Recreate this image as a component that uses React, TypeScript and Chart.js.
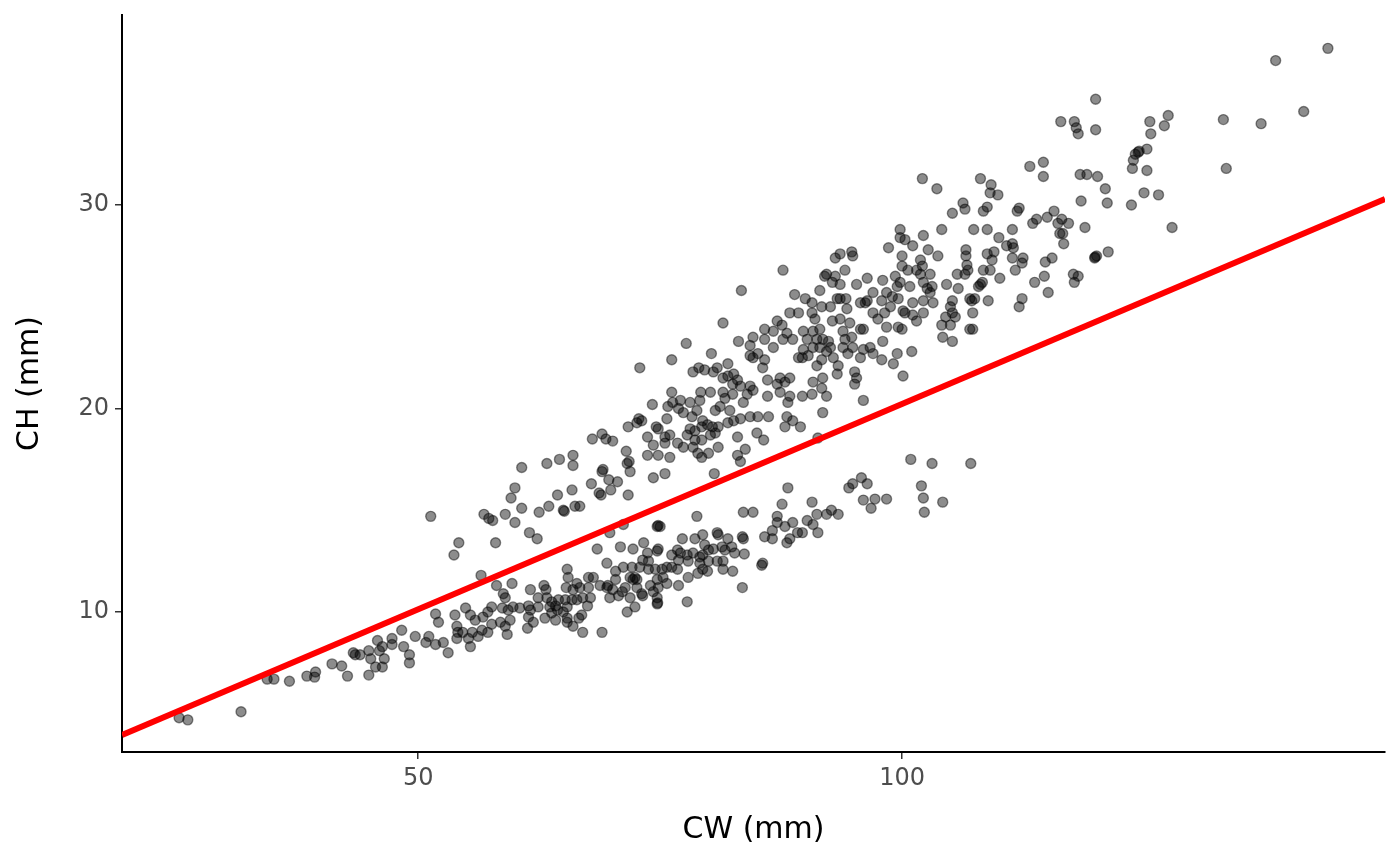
import React, { useEffect, useRef } from "react";
import { Chart, registerables } from "chart.js";
Chart.register(...registerables);

// Axis ranges and tick labels
const cwRange = [19.4, 149.9];
const chRange = [3.12, 39.34];
const cwTicks = [50, 100];
const chTicks = [10, 20, 30];

// Fitted reference line (CW, CH) at the two ends of the panel
const fitCW = [19.4, 149.9];
const fitCH = [3.96, 30.3];

// Small morph (lower branch): [CW, CH] in mm
const smallTail: number[][] = [
  [25.3,4.8],[26.2,4.7],[31.7,5.1],[34.4,6.7],[35.1,6.7],[36.7,6.6],[38.5,6.85],[39.3,6.8],[39.4,7.05],[41.1,7.45],
  [42.1,7.35],[42.7,6.85],[43.3,8.0],[43.5,7.9],[44.0,7.9],[44.9,6.9],[44.9,8.1],[45.1,7.7],[45.8,8.6],[46.0,8.1],
  [45.6,7.3],[46.3,7.3],[46.3,8.3],[46.5,7.7],[47.3,8.7],[47.3,8.4],[48.3,9.1],[48.5,8.3],[49.1,7.9],[49.1,7.5],
  [49.7,8.8],[50.8,8.5],[51.1,8.8]
];
const smallMid: number[][] = [
  [58.1,11.3],[59.7,11.4],[58.8,10.9],[59.0,10.7],[63.0,11.3],[63.2,11.1],[62.4,10.7],[65.4,12.1],[65.5,11.7],[66.4,11.4],
  [65.3,11.2],[66.0,11.1],[66.7,11.2],[67.6,11.7],[68.1,11.7],[67.6,11.2],[67.8,10.7],[67.0,10.7],[66.4,10.6],[65.9,10.6],
  [65.4,10.25],[65.2,10.6],[64.5,10.6],[64.2,10.3],[63.8,10.5],[63.6,10.25],[64.4,10.1],[65.0,10.0],[64.2,9.6],[65.4,9.5],
  [66.0,9.3],[66.6,9.7],[66.9,9.85],[67.0,9.0],[69.0,9.0],[67.5,10.3],[68.8,11.3],[69.6,11.3],[70.1,11.1],[69.5,12.4],
  [70.4,12.0],[70.4,11.6],[69.8,10.7],[70.7,10.8],[69.5,11.2],[61.6,11.1],[61.4,10.3],[61.6,10.1],[61.4,9.75],[61.3,9.2],
  [61.9,9.5],[62.4,10.25],[60.5,10.2],[59.8,10.25],[59.3,10.1],[59.5,9.6],[59.0,9.3],[59.2,8.9],[58.7,10.2],[57.6,10.25],
  [57.2,10.0],[56.7,9.75],[57.6,9.4],[57.2,9.0],[56.6,9.1],[56.2,8.8],[55.6,9.0],[55.9,9.6],[55.4,9.85],[54.9,10.2],
  [53.8,9.85],[54.0,9.3],[54.1,9.0],[54.6,9.0],[55.2,8.7],[55.4,8.3],[54.0,8.7],[53.1,8.0],[52.6,8.5],[51.8,9.9],
  [52.1,9.5],[51.8,8.4],[58.5,9.5],[63.1,9.7],[63.8,9.95],[65.4,9.7],[63.3,10.7],[68.5,13.1]
];
const smallLate: number[][] = [
  [71.2,14.3],[78.8,14.7],[74.7,14.2],[74.8,14.25],[75.0,14.2],[70.9,13.2],[73.3,13.4],[72.2,13.1],[73.7,12.9],[74.7,13.0],
  [74.8,13.1],[77.3,13.6],[78.6,13.6],[79.4,13.8],[80.9,13.9],[81.0,13.8],[82.0,13.6],[83.5,13.7],[83.6,13.6],[79.6,13.3],
  [80.0,13.05],[80.5,13.1],[81.4,13.2],[81.7,13.05],[82.4,13.2],[82.7,12.9],[83.7,12.85],[79.4,12.8],[79.1,12.7],[78.4,12.9],
  [77.8,12.8],[77.1,12.9],[76.8,13.05],[76.2,12.8],[76.9,12.55],[77.9,12.5],[79.1,12.4],[80.0,12.5],[80.9,12.5],[81.5,12.5],
  [79.4,12.1],[79.9,12.0],[78.9,11.9],[77.9,11.7],[76.9,11.3],[75.7,11.4],[76.8,12.1],[76.2,12.2],[75.7,12.2],[75.2,12.1],
  [74.5,12.1],[73.8,12.5],[73.2,12.55],[73.8,12.1],[72.9,12.2],[72.4,11.7],[72.1,12.2],[71.2,12.2],[72.2,11.6],[72.6,11.6],
  [71.9,11.7],[71.4,11.2],[72.6,11.2],[73.1,10.9],[73.2,10.8],[74.0,11.3],[74.7,11.6],[75.3,11.7],[74.8,11.2],[74.3,11.0],
  [74.7,10.7],[74.7,10.4],[74.75,10.45],[71.9,10.7],[72.4,10.25],[71.6,10.0],[71.1,11.0],[77.8,10.5],[81.5,12.1],[82.5,12.0],
  [83.5,11.2],[85.6,12.4],[85.5,12.3],[85.8,13.7],[86.6,13.6],[86.6,14.0],[87.1,14.4],[87.1,14.7],[87.6,15.3],[88.2,16.1],
  [87.9,14.2],[88.7,14.4],[89.2,13.9],[88.1,13.4],[88.4,13.6],[89.7,13.9],[90.2,14.5],[90.7,15.4],[90.8,14.3],[91.3,13.9],
  [91.2,14.8],[92.2,14.8],[92.7,15.0],[93.4,14.8],[83.6,14.9],[84.6,14.9],
  [100.9,17.5],[103.1,17.3],[107.1,17.3],[95.8,16.6],[94.9,16.3],[94.5,16.1],[96.4,16.3],[102.0,16.2],[96.0,15.5],[97.2,15.55],
  [98.4,15.55],[96.8,15.1],[102.2,15.6],[104.2,15.4],[102.3,14.9],[91.3,18.55]
];

// Large morph (upper branch): [CW, CH] in mm
const largeEarly: number[][] = [
  [72.8,19.5],[72.6,19.3],[71.7,19.1],[68.0,18.5],[69.0,18.75],[69.4,18.5],[70.1,18.4],[71.5,17.9],[71.8,17.4],[71.6,17.3],
  [71.9,16.9],[69.0,16.9],[69.1,17.0],[69.7,16.5],[70.6,16.4],[67.9,16.3],[68.7,15.85],[68.9,15.75],[69.9,16.0],[71.7,15.75],
  [66.0,17.7],[66.0,17.2],[64.6,17.5],[63.3,17.3],[60.7,17.1],[60.0,16.1],[59.6,15.6],[65.9,16.0],[64.4,15.75],[63.5,15.2],
  [62.5,14.9],[60.7,15.1],[65.0,15.0],[65.1,14.95],[66.2,15.2],[66.7,15.2],[59.0,14.8],[60.0,14.4],[56.8,14.8],[57.3,14.6],
  [57.7,14.5],[61.5,13.9],[62.3,13.6],[54.2,13.4],[58.0,13.4],[69.8,13.9],[51.3,14.7],[53.7,12.8],[56.5,11.8]
];
const largeCore: number[][] = [
  [81.5,24.2],[77.7,23.2],[76.2,22.4],[80.3,22.7],[72.9,22.0],[78.4,21.8],[79.0,22.0],[79.6,21.9],[80.5,21.8],[80.9,22.0],
  [82.0,22.2],[81.5,21.5],[82.0,21.6],[82.6,21.7],[83.0,21.4],[82.5,21.2],[83.3,21.1],[83.1,23.3],[84.3,23.1],[84.6,23.5],
  [84.3,22.6],[84.6,22.5],[85.1,22.7],[84.3,21.1],[84.6,20.9],[84.0,20.7],[83.6,20.3],[82.5,20.7],[81.5,20.8],[81.7,20.5],
  [81.2,20.1],[80.7,19.9],[80.2,20.8],[79.2,20.8],[79.1,20.4],[78.1,20.3],[77.1,20.4],[76.2,20.8],[76.3,20.3],[75.8,20.1],
  [76.9,20.0],[77.4,19.8],[78.3,19.6],[78.8,19.9],[79.4,19.4],[79.9,19.2],[80.4,19.1],[81.0,19.1],[80.7,18.8],[80.2,18.7],
  [79.3,19.1],[78.6,18.9],[78.1,19.0],[77.8,18.7],[78.6,18.45],[79.3,18.45],[78.4,18.1],[77.4,18.1],[76.8,18.3],[76.0,18.7],
  [75.5,18.6],[74.8,19.0],[74.6,19.1],[73.7,18.6],[73.1,19.4],[74.2,20.2],[75.7,19.5],[74.3,18.2],[75.5,18.3],[73.7,17.7],
  [74.8,17.7],[76.0,17.6],[75.5,16.8],[74.3,16.6],[78.9,17.8],[80.0,17.8],[79.3,17.6],[81.0,18.1],[80.6,16.8],[82.2,19.9],
  [82.6,19.4],[82.0,19.3],[83.3,19.5],[84.3,19.6],[85.1,19.6],[83.0,18.6],[83.8,18.0],[83.0,17.7],[83.3,17.4],[85.0,18.8],
  [83.4,25.8],
  [87.7,26.8],[93.6,27.6],[93.1,27.4],[94.8,27.7],[94.9,27.5],[94.1,26.8],[92.2,26.6],[92.0,26.5],[93.1,26.5],[93.6,26.1],
  [92.8,26.2],[91.5,25.8],[88.9,25.6],[90.0,25.4],[90.7,25.2],[91.7,25.0],[92.6,25.0],[93.3,25.4],[94.2,25.4],[93.6,25.4],
  [94.3,24.9],[95.3,26.1],[96.4,26.4],[97.0,25.7],[96.4,25.3],[96.2,25.2],[95.7,25.2],[97.0,24.7],[97.5,24.4],[88.4,24.7],
  [89.3,24.7],[87.1,24.3],[85.8,23.9],[87.6,24.1],[88.1,23.7],[87.7,23.4],[86.7,23.8],[88.7,23.4],[89.8,23.8],[90.2,23.4],
  [90.8,23.8],[91.2,23.4],[91.5,23.9],[90.7,24.7],[91.0,24.4],[92.8,24.3],[93.6,24.4],[93.9,23.8],[94.6,24.2],[95.7,23.9],
  [96.0,23.9],[94.8,23.5],[94.1,23.4],[93.9,23.0],[92.6,23.0],[92.4,23.3],[91.8,23.4],[91.5,23.0],[90.8,23.0],[89.8,22.9],
  [89.3,22.5],[89.7,22.5],[90.3,22.6],[91.2,22.1],[91.7,22.4],[92.2,22.8],[92.9,22.5],[93.4,22.1],[94.4,22.7],[94.9,23.0],
  [95.7,22.5],[96.0,22.9],[96.7,23.0],[97.0,22.7],[95.1,21.8],[95.3,21.5],[95.1,21.2],[96.0,20.4],[93.3,21.7],[91.8,21.5],
  [90.8,21.3],[91.7,21.0],[92.2,20.6],[90.7,20.7],[89.7,20.6],[88.4,20.6],[87.4,20.8],[87.1,21.2],[88.4,21.5],[87.9,21.3],
  [87.4,21.5],[86.1,21.4],[85.8,22.4],[85.6,22.0],[86.7,23.0],[85.8,23.4],[86.1,20.6],[88.2,20.3],[91.8,19.8],[88.1,19.6],
  [88.7,19.4],[89.5,19.1],[87.9,19.1],[86.2,19.6],[85.7,18.45]
];
const largeLate: number[][] = [
  [102.1,31.3],[103.6,30.8],[108.1,31.3],[109.2,31.0],[109.1,30.6],[109.9,30.5],[113.2,31.9],[114.6,32.1],[114.6,31.4],[106.3,30.1],
  [106.5,29.8],[105.2,29.6],[108.8,29.9],[108.4,29.7],[112.1,29.85],[111.9,29.7],[113.5,29.1],[113.9,29.3],[115.0,29.4],[115.7,29.7],
  [116.1,29.1],[116.3,28.6],[104.1,28.8],[107.4,28.8],[108.8,28.8],[110.0,28.4],[111.4,28.8],[110.8,28.0],[111.4,28.1],[111.5,27.9],
  [111.4,27.4],[112.5,27.4],[112.4,27.15],[111.7,26.8],[114.8,27.2],[115.5,27.4],[106.6,27.8],[106.6,27.5],[108.8,27.6],[109.5,27.7],
  [109.3,27.3],[106.7,27.05],[106.8,26.8],[106.5,26.6],[105.7,26.6],[108.4,26.8],[109.1,26.8],[110.1,26.4],[108.3,26.2],[108.1,26.1],
  [107.9,26.0],[104.6,26.1],[105.8,25.9],[107.0,25.4],[107.2,25.3],[107.5,25.4],[108.9,25.3],[105.2,25.3],[105.0,25.0],[105.2,24.7],
  [105.5,24.5],[104.5,24.5],[104.1,24.1],[105.0,24.1],[107.3,24.7],[107.0,23.9],[107.3,23.9],[104.2,23.5],[105.2,23.3],[113.7,26.2],
  [114.7,26.5],[115.1,25.7],[112.4,25.4],[112.1,25.0],[99.8,28.8],[99.8,28.4],[100.3,28.3],[101.1,28.0],[102.2,28.5],[102.7,27.8],
  [103.7,27.5],[98.6,27.9],[100.0,27.5],[100.0,27.0],[100.6,26.8],[101.5,26.8],[101.9,27.3],[102.1,27.0],[101.9,26.6],[102.9,26.6],
  [102.2,26.2],[103.1,26.0],[102.9,25.7],[102.6,25.9],[103.2,25.2],[102.2,25.3],[102.2,24.7],[101.1,25.2],[100.8,26.0],[99.8,26.2],
  [99.3,26.5],[99.5,26.0],[98.0,26.3],[98.4,25.7],[97.9,25.3],[99.0,25.5],[99.6,25.4],[100.1,24.8],[101.1,24.6],[101.5,24.3],
  [100.3,24.7],[98.8,25.0],[98.2,24.7],[98.4,24.0],[99.6,24.0],[100.0,23.9],[98.0,23.3],[99.5,22.7],[101.0,22.8],[97.9,22.4],
  [99.1,22.2],[100.1,21.6]
];
const largeTop: number[][] = [
  [120.0,35.2],[116.4,34.1],[117.8,34.1],[118.0,33.8],[118.2,33.5],[120.0,33.7],[125.6,34.1],[127.5,34.4],[127.1,33.9],[125.7,33.5],
  [125.3,32.75],[124.4,32.6],[124.5,32.65],[124.1,32.5],[123.9,32.2],[123.8,31.8],[125.3,31.7],[118.4,31.5],[119.1,31.5],[120.2,31.4],
  [121.0,30.8],[118.5,30.2],[121.2,30.1],[123.7,30.0],[125.0,30.6],[126.5,30.5],[127.9,28.9],[116.5,29.3],[117.2,29.1],[118.9,28.9],
  [116.6,28.6],[116.7,28.1],[121.3,27.7],[119.9,27.4],[119.95,27.45],[120.1,27.5],[117.7,26.6],[118.2,26.5],[117.8,26.2],
  [138.6,37.1],[144.0,37.7],[141.5,34.6],[133.2,34.2],[137.1,34.0],[133.5,31.8]
];

const FONT = "'DejaVu Sans', sans-serif";

const toPts = (arr: number[][]) => arr.map(([x, y]) => ({ x, y }));

export default function App() {
  const ref = useRef<HTMLCanvasElement | null>(null);
  useEffect(() => {
    if (!ref.current) return;
    const points = [
      ...smallTail, ...smallMid, ...smallLate,
      ...largeEarly, ...largeCore, ...largeLate, ...largeTop,
    ];
    const chart = new Chart(ref.current, {
      type: "scatter",
      data: {
        datasets: [
          {
            type: "line",
            data: fitCW.map((x, i) => ({ x, y: fitCH[i] })),
            borderColor: "#FF0000",
            borderWidth: 6,
            pointRadius: 0,
            fill: false,
            order: 0,
          } as any,
          {
            data: toPts(points),
            backgroundColor: "rgba(0,0,0,0.45)",
            borderColor: "rgba(0,0,0,0.45)",
            borderWidth: 1.4,
            pointRadius: 5,
            order: 1,
          },
        ],
      },
      options: {
        responsive: false,
        animation: false,
        devicePixelRatio: 1,
        layout: { padding: { top: 15, right: 15, bottom: 0, left: 0 } },
        plugins: { legend: { display: false }, tooltip: { enabled: false } },
        scales: {
          x: {
            type: "linear",
            min: cwRange[0],
            max: cwRange[1],
            afterBuildTicks: (s: any) => { s.ticks = cwTicks.map((v) => ({ value: v })); },
            afterFit: (s: any) => { s.height = 113; s.paddingLeft = 0; s.paddingRight = 0; },
            ticks: { font: { family: FONT, size: 24 }, color: "#4D4D4D", padding: 5 },
            grid: { display: true, drawOnChartArea: false, drawTicks: true, tickLength: 7, color: "#333333", lineWidth: 1.5 },
            border: { display: true, color: "#000000", width: 2 },
            title: { display: true, text: "CW (mm)", font: { family: FONT, size: 30 }, color: "#000000", padding: { top: 0, bottom: 17 } },
          },
          y: {
            type: "linear",
            min: chRange[0],
            max: chRange[1],
            afterBuildTicks: (s: any) => { s.ticks = chTicks.map((v) => ({ value: v })); },
            afterFit: (s: any) => { s.width = 122; s.paddingTop = 0; s.paddingBottom = 0; },
            ticks: { font: { family: FONT, size: 24 }, color: "#4D4D4D", padding: 6 },
            grid: { display: true, drawOnChartArea: false, drawTicks: true, tickLength: 7, color: "#333333", lineWidth: 1.5 },
            border: { display: true, color: "#000000", width: 2 },
            title: { display: true, text: "CH (mm)", font: { family: FONT, size: 30 }, color: "#000000", padding: { top: 12, bottom: 0 } },
          },
        },
      },
    });
    return () => chart.destroy();
  }, []);
  return (
    <div style={{ position: "absolute", left: 0, top: 0, width: 1400, height: 865, background: "#fff" }}>
      <canvas ref={ref} width={1400} height={865} style={{ display: "block" }} />
    </div>
  );
}
